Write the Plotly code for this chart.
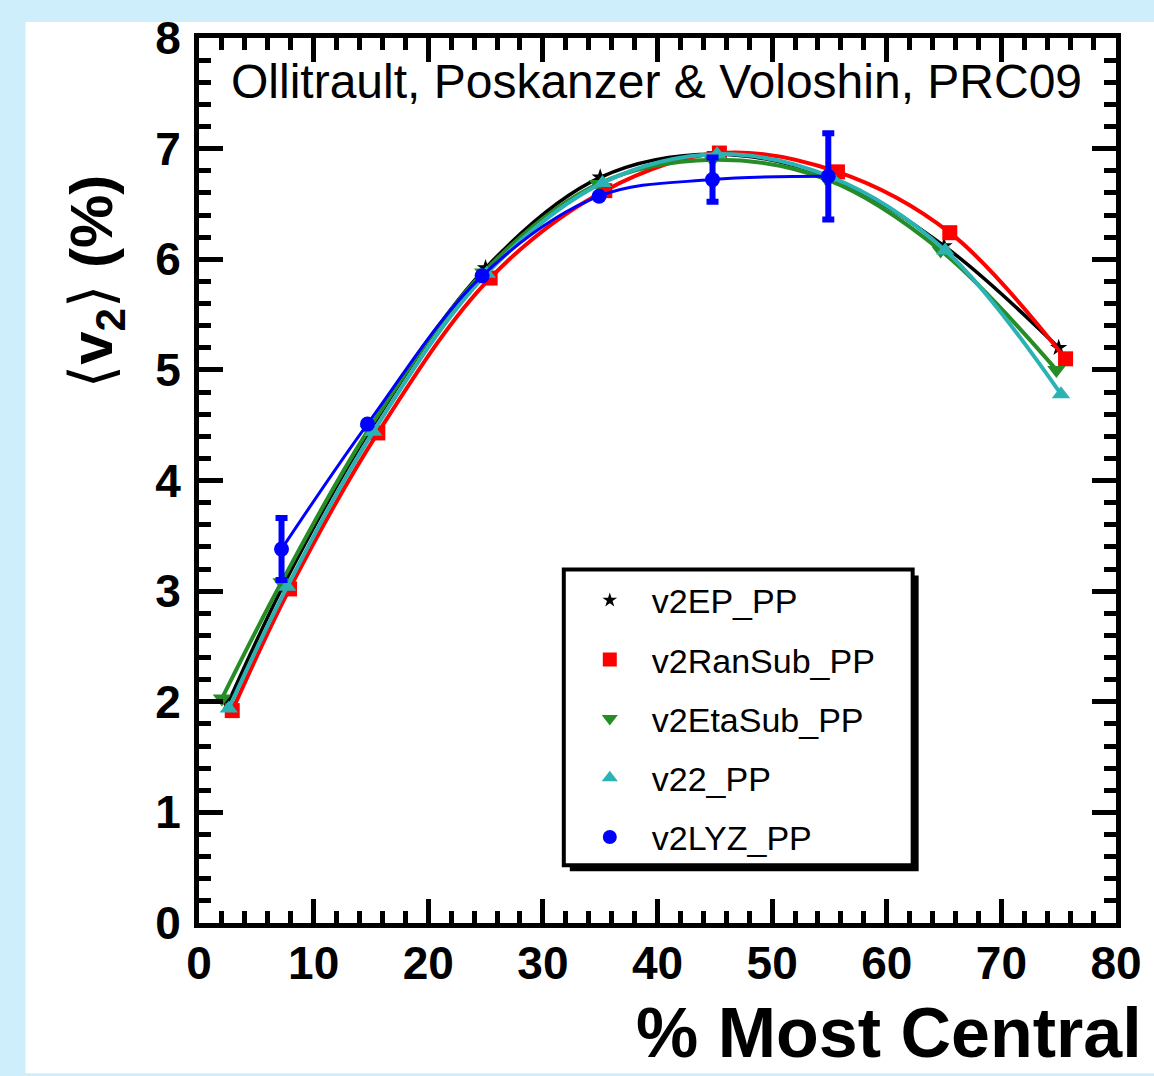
import plotly.graph_objects as go

# ---------------- data ----------------
ep_x = [2.5, 7.5, 15.0, 25.0, 35.0, 45.0, 55.0, 65.0, 75.0]
ep_y = [1.98, 3.08, 4.47, 5.92, 6.74, 6.95, 6.74, 6.12, 5.20]

ransub_x = [2.9, 7.9, 15.6, 25.4, 35.4, 45.4, 55.7, 65.5, 75.6]
ransub_y = [1.92, 3.02, 4.43, 5.83, 6.62, 6.96, 6.79, 6.24, 5.10]

etasub_x = [2.0, 7.2, 14.8, 24.8, 34.8, 44.8, 54.8, 64.7, 74.8]
etasub_y = [2.03, 3.08, 4.46, 5.88, 6.68, 6.90, 6.72, 6.08, 5.00]

v22_x = [2.6, 7.7, 15.2, 25.1, 35.2, 45.2, 55.2, 65.1, 75.2]
v22_y = [1.94, 3.04, 4.44, 5.87, 6.69, 6.95, 6.74, 6.08, 4.78]

lyz_x = [7.2, 14.7, 24.7, 34.9, 44.8, 54.9]
lyz_y = [3.38, 4.51, 5.85, 6.57, 6.72, 6.75]
lyz_err = [0.28, 0.0, 0.0, 0.0, 0.20, 0.39]

names = ["v2EP_PP", "v2RanSub_PP", "v2EtaSub_PP", "v22_PP", "v2LYZ_PP"]
x_ticks = [0, 10, 20, 30, 40, 50, 60, 70, 80]
y_ticks = [0, 1, 2, 3, 4, 5, 6, 7, 8]

title_text = "Ollitrault, Poskanzer &amp; Voloshin, PRC09"
x_title = "% Most Central"
y_title = "⟨<b>v</b><sub><b>2</b></sub>⟩ <b>(%)</b>"

# ---------------- layout geometry ----------------
W, H = 1154, 1076
L, R, T, B = 199, 35, 34, 153
PW, PH = W - L - R, H - T - B


def px(xp):
    return (xp - L) / PW


def py(yp):
    return (H - B - yp) / PH


BLACK = "#000000"
RED = "#ff0000"
GREEN = "#268c26"
CYAN = "#2bb3b3"
BLUE = "#0000ff"

fig = go.Figure()

series = [
    (ep_x, ep_y, names[0], BLACK, "star", 13, 3.5),
    (ransub_x, ransub_y, names[1], RED, "square", 15, 4),
    (etasub_x, etasub_y, names[2], GREEN, "triangle-down", 16, 4),
    (v22_x, v22_y, names[3], CYAN, "triangle-up", 16, 4),
]
for xs, ys, nm, col, sym, sz, lw in series:
    fig.add_trace(go.Scatter(
        x=xs, y=ys, mode="lines+markers", name=nm, showlegend=False,
        line=dict(color=col, width=lw, shape="spline", smoothing=1.0),
        marker=dict(color=col, symbol=sym, size=sz),
    ))

fig.add_trace(go.Scatter(
    x=lyz_x, y=lyz_y, mode="lines+markers", name=names[4], showlegend=False,
    line=dict(color=BLUE, width=3, shape="spline", smoothing=1.0),
    marker=dict(color=BLUE, symbol="circle", size=15),
    error_y=dict(type="data", array=lyz_err, visible=True,
                 color=BLUE, thickness=6, width=6),
))

# legend-only entries (markers only, like the reference legend)
leg_styles = [(BLACK, "star", 11), (RED, "square", 14), (GREEN, "triangle-down", 14),
              (CYAN, "triangle-up", 14), (BLUE, "circle", 14)]
for nm, (col, sym, sz) in zip(names, leg_styles):
    fig.add_trace(go.Scatter(
        x=[None], y=[None], mode="markers", name=nm, legendgroup=nm,
        marker=dict(color=col, symbol=sym, size=sz),
    ))

tickfont = dict(family="Liberation Sans, Arial", size=46, color="black", weight="bold")

fig.update_xaxes(
    range=[0, 80], tickvals=x_ticks, ticktext=[str(v) for v in x_ticks],
    showline=True, linecolor="black", linewidth=5, mirror="allticks",
    ticks="inside", ticklen=24, tickwidth=5, tickcolor="black",
    minor=dict(dtick=2, ticks="inside", ticklen=12, tickwidth=5, tickcolor="black", showgrid=False),
    showgrid=False, zeroline=False, tickfont=tickfont, ticklabelstandoff=-4,
)
fig.update_yaxes(
    range=[0, 8], tickvals=y_ticks, ticktext=[str(v) for v in y_ticks],
    showline=True, linecolor="black", linewidth=5, mirror="allticks",
    ticks="inside", ticklen=24, tickwidth=5, tickcolor="black",
    minor=dict(dtick=0.2, ticks="inside", ticklen=12, tickwidth=5, tickcolor="black", showgrid=False),
    showgrid=False, zeroline=False, tickfont=tickfont, ticklabelstandoff=4,
)

shapes = [
    # white panel over light-blue page
    dict(type="rect", xref="paper", yref="paper", layer="below",
         x0=px(25), x1=px(1160), y0=py(1074), y1=py(18),
         fillcolor="white", line=dict(width=0)),
    # legend shadow
    dict(type="rect", xref="paper", yref="paper", layer="above",
         x0=px(571), x1=px(921), y0=py(871), y1=py(574),
         fillcolor="black", line=dict(width=0)),
    # legend box
    dict(type="rect", xref="paper", yref="paper", layer="above",
         x0=px(565), x1=px(915), y0=py(865), y1=py(568),
         fillcolor="white", line=dict(color="black", width=4)),
]

annotations = [
    dict(text=title_text, xref="paper", yref="paper", x=px(658), y=py(78),
         xanchor="center", yanchor="middle", showarrow=False,
         font=dict(family="Liberation Sans, Arial", size=48, color="black")),
    dict(text="<b>" + x_title + "</b>", xref="paper", yref="paper", x=px(1147), y=py(1033),
         xanchor="right", yanchor="middle", showarrow=False,
         font=dict(family="Liberation Sans, Arial", size=70, color="black")),
    dict(text=y_title, xref="paper", yref="paper", x=px(96), y=py(278),
         xanchor="center", yanchor="middle", showarrow=False, textangle=-90,
         font=dict(family="Liberation Sans, DejaVu Sans, Arial", size=60, color="black")),
]

fig.update_layout(
    width=W, height=H,
    margin=dict(l=L, r=R, t=T, b=B, pad=0),
    paper_bgcolor="#cfeefb", plot_bgcolor="white",
    shapes=shapes, annotations=annotations,
    legend=dict(
        x=px(569), y=py(570), xanchor="left", yanchor="top",
        bgcolor="rgba(0,0,0,0)", borderwidth=0,
        font=dict(family="Liberation Sans, Arial", size=34, color="black"),
        itemwidth=74, tracegroupgap=12, traceorder="grouped",
    ),
)

fig.write_html("out.html")
